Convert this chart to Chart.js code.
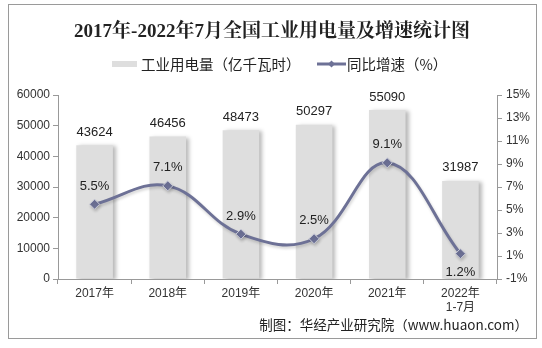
<!DOCTYPE html>
<html lang="zh">

<head>
  <meta charset="UTF-8">
  <title>全国工业用电量及增速</title>
  <style>
    html, body { margin: 0; padding: 0; background: #fff; }
    .box { position: relative; width: 542px; height: 348px; }
  </style>
</head>

<body>
  <div class="box">
    <canvas id="myChart" width="542" height="348"></canvas>
  </div>
  <script src="https://cdn.jsdelivr.net/npm/chart.js"></script>
  <script>

    // dados
    const anos = [['2017年'], ['2018年'], ['2019年'], ['2020年'], ['2021年'], ['2022年', '1-7月']]
    const consumo = [43624, 46456, 48473, 50297, 55090, 31987]
    const crescimento = [5.5, 7.1, 2.9, 2.5, 9.1, 1.2]
    const labelAbaixo = [false, false, false, false, false, true]
    const ticksEsq = [0, 10000, 20000, 30000, 40000, 50000, 60000]
    const ticksDir = [-1, 1, 3, 5, 7, 9, 11, 13, 15]

    const corBarra = '#dedede'
    const corLinha = '#6d7196'
    const fonteTxt = "'Liberation Sans', 'Noto Sans CJK SC', sans-serif"

    // sombra nas barras e na linha
    const sombra = {
      id: 'sombra',
      beforeDatasetDraw(chart, args) {
        const c = chart.ctx
        c.save()
        if (args.index === 0) {
          c.shadowColor = 'rgba(0,0,0,0.28)'
          c.shadowBlur = 4
          c.shadowOffsetX = 3
          c.shadowOffsetY = 1
        } else {
          c.shadowColor = 'rgba(0,0,0,0.18)'
          c.shadowBlur = 3
          c.shadowOffsetX = 1
          c.shadowOffsetY = 2
        }
      },
      afterDatasetDraw(chart) {
        chart.ctx.restore()
      }
    }

    // titulo, legenda, rotulos e fonte
    const textos = {
      id: 'textos',
      afterDraw(chart) {
        const c = chart.ctx
        c.save()

        // moldura
        c.strokeStyle = '#9a9a9a'
        c.lineWidth = 1
        c.strokeRect(8.5, 4.5, 528, 334)

        c.fillStyle = '#222'
        c.textAlign = 'center'
        c.textBaseline = 'middle'
        c.font = "bold 19px 'Liberation Serif', 'Noto Serif CJK SC', 'Noto Sans CJK SC', serif"
        c.fillText('2017年-2022年7月全国工业用电量及增速统计图', 272, 32)

        // legenda
        c.font = "14.5px 'Noto Sans CJK SC', sans-serif"
        c.textAlign = 'left'
        c.fillStyle = corBarra
        c.fillRect(112, 61, 25, 6)
        c.fillStyle = '#222'
        c.fillText(chart.data.datasets[0].label, 141, 64)

        c.strokeStyle = corLinha
        c.lineWidth = 3
        c.beginPath()
        c.moveTo(317, 64)
        c.lineTo(346, 64)
        c.stroke()
        c.fillStyle = corLinha
        c.beginPath()
        c.moveTo(331.5, 60.5); c.lineTo(335, 64); c.lineTo(331.5, 67.5); c.lineTo(328, 64)
        c.closePath()
        c.fill()
        c.fillStyle = '#222'
        c.fillText(chart.data.datasets[1].label, 347, 64)

        // rotulos das barras
        c.font = '13px ' + fonteTxt
        c.textAlign = 'center'
        c.fillStyle = '#222'
        chart.getDatasetMeta(0).data.forEach((bar, i) => {
          c.fillText(String(consumo[i]), bar.x, bar.y - 13)
        })

        // rotulos da linha
        chart.getDatasetMeta(1).data.forEach((pt, i) => {
          const y = labelAbaixo[i] ? pt.y + 19 : pt.y - 18
          c.fillText(crescimento[i].toFixed(1) + '%', pt.x, y)
        })

        // fonte
        c.font = "13.5px 'Noto Sans CJK SC', sans-serif"
        c.textAlign = 'right'
        c.fillStyle = '#222'
        c.fillText('制图：华经产业研究院（www.huaon.com）', 528, 325)

        c.restore()
      }
    }

    const ctx = document.getElementById('myChart')

    new Chart(ctx, {
      data: {
        labels: anos,
        datasets: [{
          type: 'bar',
          label: '工业用电量（亿千瓦时）',
          data: consumo,
          backgroundColor: corBarra,
          barPercentage: 0.5,
          categoryPercentage: 1,
          yAxisID: 'y',
          order: 1
        }, {
          type: 'line',
          label: '同比增速（%）',
          data: crescimento,
          borderColor: corLinha,
          borderWidth: 3,
          tension: 0.4,
          pointStyle: 'rectRot',
          pointRadius: 5,
          pointBackgroundColor: corLinha,
          pointBorderColor: '#c9cbd8',
          pointBorderWidth: 1,
          yAxisID: 'y1',
          order: 0
        }]
      },
      options: {
        responsive: false,
        animation: false,
        layout: { padding: { top: 95, left: 0, right: 0, bottom: 0 } },
        plugins: {
          legend: { display: false },
          title: { display: false },
          tooltip: { enabled: false }
        },
        scales: {
          x: {
            offset: true,
            grid: { display: true, offset: true, drawOnChartArea: false, tickLength: 5, color: '#999' },
            border: { color: '#999' },
            ticks: {
              padding: 2,
              color: '#333',
              font: { size: 12, family: fonteTxt },
              maxRotation: 0
            },
            afterFit(scale) { scale.height = 69 }
          },
          y: {
            position: 'left',
            min: 0,
            max: 60000,
            afterBuildTicks(scale) { scale.ticks = ticksEsq.map(v => ({ value: v })) },
            grid: { display: true, drawOnChartArea: false, tickLength: 5, color: '#999' },
            border: { color: '#999' },
            ticks: {
              padding: 3,
              color: '#333',
              font: { size: 12, family: fonteTxt },
              callback: v => String(v)
            },
            afterFit(scale) { scale.width = 58 }
          },
          y1: {
            position: 'right',
            min: -1,
            max: 15,
            afterBuildTicks(scale) { scale.ticks = ticksDir.map(v => ({ value: v })) },
            grid: { display: true, drawOnChartArea: false, tickLength: 5, color: '#999' },
            border: { color: '#999' },
            ticks: {
              padding: 4,
              color: '#333',
              font: { size: 12, family: fonteTxt },
              callback: v => v + '%'
            },
            afterFit(scale) { scale.width = 45 }
          }
        }
      },
      plugins: [sombra, textos]
    });

  </script>
</body>

</html>
